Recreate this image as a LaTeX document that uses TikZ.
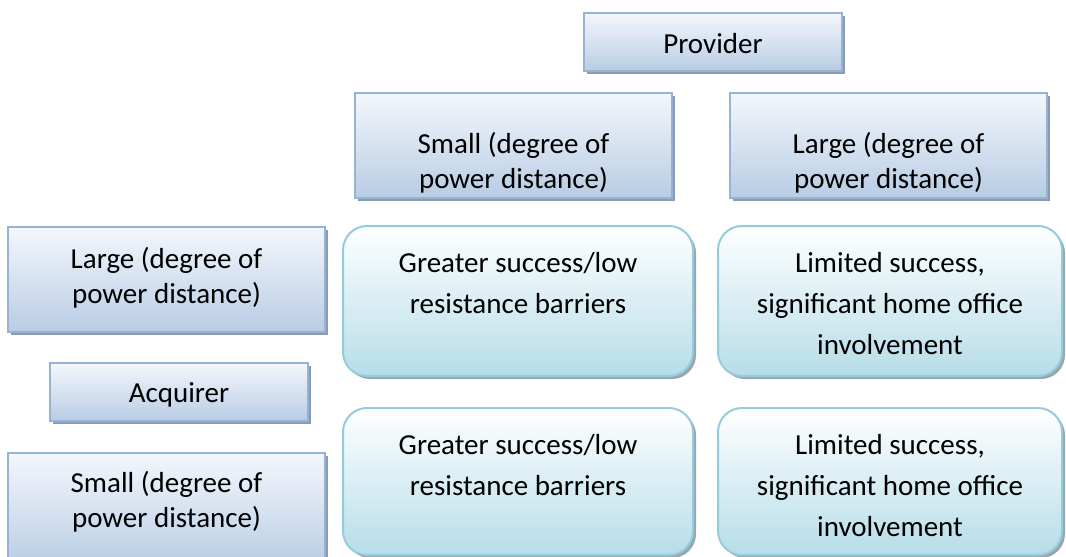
\documentclass[tikz,border=0pt]{standalone}
\usepackage{fontspec}
\setmainfont{Carlito}
\usetikzlibrary{shadows}

\definecolor{rectedge}{HTML}{95B3D7}
\definecolor{recttop}{HTML}{F4F7FC}
\definecolor{rectbot}{HTML}{B8CCE4}
\definecolor{rectshadow}{HTML}{8E9BAE}
\definecolor{roundedge}{HTML}{93CDDD}
\definecolor{roundtop}{HTML}{FFFFFF}
\definecolor{roundbot}{HTML}{B6DDE8}
\definecolor{roundshadow}{HTML}{9AA6AE}

% multi-line text whose baseline is the first line
\newcommand{\stack}[1]{\begin{tabular}[t]{@{}c@{}}#1\end{tabular}}

\tikzset{
  labelbox/.style={draw=rectedge, line width=2pt, top color=recttop, bottom color=rectbot,
    inner sep=0pt, rectangle,
    drop shadow={shadow xshift=3pt, shadow yshift=-3pt, fill=rectshadow, opacity=1}},
  cellbox/.style={draw=roundedge, line width=2pt, top color=roundtop, bottom color=roundbot,
    inner sep=0pt, rectangle, rounded corners=24pt,
    drop shadow={shadow xshift=3pt, shadow yshift=-3pt, fill=roundshadow, opacity=1}},
  labeltext/.style={anchor=base, inner sep=0pt, font=\fontsize{29}{35}\selectfont},
  celltext/.style={anchor=base, inner sep=0pt, font=\fontsize{29}{41}\selectfont},
}

\begin{document}
\begin{tikzpicture}[x=1pt, y=-1pt]
  \useasboundingbox (0,0) rectangle (1066,557);
  \clip (0,0) rectangle (1066,557);

  % provider side headings
  \node[labelbox, minimum width=258pt, minimum height=58pt] (provider) at (713,42) {};
  \node[labelbox, minimum width=317pt, minimum height=105pt] (psmall) at (513.5,145.5) {};
  \node[labelbox, minimum width=317pt, minimum height=105pt] (plarge) at (888.5,145.5) {};

  % acquirer side headings
  \node[labelbox, minimum width=317pt, minimum height=105pt] (alarge) at (166.5,279.5) {};
  \node[labelbox, minimum width=258pt, minimum height=58pt] (acquirer) at (179,392) {};
  \node[labelbox, minimum width=317pt, minimum height=115pt] (asmall) at (166.5,510.5) {};

  % outcome cells
  \node[cellbox, minimum width=350pt, minimum height=150pt] (c11) at (518,301) {};
  \node[cellbox, minimum width=344pt, minimum height=150pt] (c12) at (890,301) {};
  \node[cellbox, minimum width=350pt, minimum height=147pt] (c21) at (518,481.5) {};
  \node[cellbox, minimum width=344pt, minimum height=147pt] (c22) at (890,481.5) {};

  % heading texts
  \node[labeltext] (tprovider) at (713,53) {Provider};
  \node[labeltext] (tpsmall) at (513.5,153) {\stack{Small (degree of\\power distance)}};
  \node[labeltext] (tplarge) at (888.5,153) {\stack{Large (degree of\\power distance)}};
  \node[labeltext] (talarge) at (166.5,268) {\stack{Large (degree of\\power distance)}};
  \node[labeltext] (tacquirer) at (179,402) {Acquirer};
  \node[labeltext] (tasmall) at (166.5,492) {\stack{Small (degree of\\power distance)}};

  % cell texts
  \node[celltext] (tc11) at (518,272) {\stack{Greater success/low\\resistance barriers}};
  \node[celltext] (tc12) at (890,272) {\stack{Limited success,\\significant home office\\involvement}};
  \node[celltext] (tc21) at (518,454) {\stack{Greater success/low\\resistance barriers}};
  \node[celltext] (tc22) at (890,454) {\stack{Limited success,\\significant home office\\involvement}};
\end{tikzpicture}
\end{document}
